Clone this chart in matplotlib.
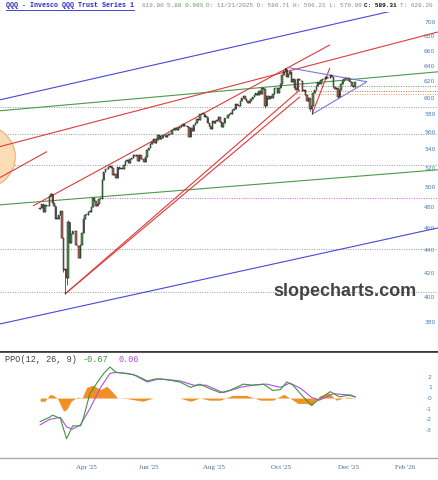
import numpy as np
import matplotlib.pyplot as plt
from matplotlib.patches import Ellipse
from matplotlib.lines import Line2D

# daily closes, index 0 = 14 Mar 2025 ... 203 = 5 Jan 2026
closes = [
    479.7, 483.0, 475.6, 481.8, 480.8, 480.8, 490.7, 493.5, 484.4, 481.5,
    468.9, 468.9, 472.7, 476.2, 450.7, 422.7, 423.7, 416.1, 466.0, 446.2,
    454.4, 457.0, 457.6, 444.2, 444.1, 433.0, 444.8, 455.9, 468.5, 472.6,
    472.4, 475.6, 475.8, 480.4, 488.8, 485.9, 481.4, 483.5, 488.3, 488.0,
    507.9, 515.6, 518.7, 519.3, 521.5, 522.0, 520.3, 513.0, 514.0, 509.2,
    521.2, 518.9, 519.1, 519.1, 523.2, 527.3, 528.8, 524.8, 529.9, 530.7,
    534.2, 532.4, 533.7, 526.9, 534.3, 529.1, 529.0, 526.8, 531.7, 539.8,
    541.2, 546.2, 548.1, 551.6, 547.0, 550.8, 556.2, 552.0, 552.3, 556.2,
    555.5, 554.2, 556.2, 556.7, 557.3, 561.8, 561.3, 564.2, 561.3, 563.8,
    565.0, 566.4, 568.1, 566.0, 566.8, 565.0, 553.9, 564.1, 560.3, 567.3,
    569.2, 574.6, 572.9, 580.1, 580.3, 579.9, 577.3, 577.1, 569.3, 565.9,
    563.3, 572.0, 570.3, 572.6, 573.5, 577.1, 570.4, 565.6, 570.1, 575.2,
    576.1, 578.9, 580.5, 580.7, 584.8, 586.7, 591.7, 590.8, 589.9, 595.3,
    599.4, 602.2, 598.2, 596.1, 593.5, 596.0, 598.7, 600.4, 603.3, 605.7,
    603.2, 607.7, 603.9, 611.4, 610.7, 589.5, 602.0, 598.0, 602.2, 600.0,
    603.9, 611.5, 611.4, 605.5, 611.3, 617.1, 628.1, 632.9, 635.8, 626.1,
    629.1, 632.1, 619.3, 623.3, 611.7, 609.7, 623.2, 621.6, 621.1, 608.4,
    608.9, 603.7, 596.3, 599.9, 585.7, 589.3, 605.2, 608.9, 614.3, 619.3,
    617.2, 622.0, 623.5, 622.9, 625.5, 624.3, 624.8, 627.6, 625.6, 613.6,
    610.5, 611.8, 600.4, 609.9, 617.1, 620.9, 622.9, 623.9, 623.9, 620.9,
    619.0, 614.3, 613.1, 619.0,
]
wick_lows = {15: 421.0, 16: 402.4, 17: 410.0, 145: 588.0, 174: 584.0, 175: 580.0, 192: 599.0}
wick_highs = {7: 494.5, 18: 467.8, 158: 637.0, 161: 634.0}

# PPO panel (trading-day index, value)
ppo_idx = [0, 6, 8, 13, 17, 21, 26, 28, 32, 37, 41, 45, 49, 56, 62, 69, 75, 82, 90,
           97, 103, 109, 116, 122, 131, 137, 144, 150, 155, 159, 163, 169, 175, 180,
           187, 193, 200, 203]
ppo_val = [-2.2, -1.8, -1.6, -1.9, -3.8, -2.6, -2.6, -1.8, 0.4, 1.5, 2.3, 2.9, 2.4, 2.3,
           2.1, 1.6, 1.8, 1.7, 1.5, 1.0, 1.3, 0.9, 0.5, 0.7, 1.3, 1.2, 1.3, 0.7, 0.8,
           1.5, 1.2, 0.2, -0.67, -0.1, 0.6, 0.1, 0.3, 0.1]
sig_idx = [0, 6, 13, 17, 21, 26, 32, 39, 45, 49, 60, 69, 77, 90, 99, 107, 118, 129,
           137, 146, 155, 161, 168, 175, 180, 189, 198, 203]
sig_val = [-2.5, -2.0, -1.8, -2.7, -2.9, -2.5, -1.0, 1.0, 2.3, 2.4, 2.2, 1.5, 1.8, 1.6,
           1.2, 1.2, 0.5, 1.0, 1.2, 1.3, 1.0, 1.4, 0.9, 0.06, -0.2, 0.4, 0.3, 0.1]
hist_idx = [0, 3, 6, 8, 11, 15, 17, 20, 24, 27, 30, 34, 39, 43, 47, 50, 56, 66, 73,
            90, 97, 103, 109, 116, 124, 133, 142, 150, 157, 161, 166, 172, 175, 180,
            186, 191, 198, 203]
hist_val = [-0.3, -0.3, 0.3, 0.3, 0.0, -1.2, -1.1, -0.3, 0.1, 0.0, 1.0, 1.2, 0.8, 1.1,
            0.5, 0.0, -0.05, -0.3, 0.0, 0.0, -0.3, 0.0, -0.2, -0.2, 0.25, 0.25, -0.2,
            -0.2, 0.35, 0.0, -0.5, -0.5, -0.73, 0.2, 0.5, -0.2, 0.1, 0.0]

# drawn trend lines: (i0, price0, i1, price1, colour)
trend_lines = [
    (-25.9, 597.3, 256.5, 730.9, "#4848d8"),
    (-25.9, 378.6, 256.5, 460.3, "#4848d8"),
    (-25.9, 584.1, 256.5, 632.3, "#4a9a4a"),
    (-25.9, 482.4, 256.5, 518.0, "#4a9a4a"),
    (-25.9, 543.1, 256.5, 685.7, "#e03a3a"),
    (-25.9, 509.9, 4.4, 537.6, "#e03a3a"),
    (-4.6, 481.4, 186.8, 667.9, "#e03a3a"),
    (16.0, 402.4, 167.5, 609.6, "#e03a3a"),
    (16.0, 402.4, 167.5, 601.0, "#e03a3a"),
    (175.3, 580.0, 186.8, 637.5, "#e03a3a"),
    (159.1, 638.0, 210.7, 619.6, "#7878e0"),
    (175.3, 580.0, 210.7, 619.6, "#7878e0"),
]
# dotted horizontal levels: (price, start index, colour)
levels = [
    (614.5, 165, "#5aa85a"), (608.3, 165, "#e06060"), (604.6, 165, "#f0a040"),
    (589.0, -26, "#999999"), (557.5, -26, "#999999"), (523.0, -26, "#999999"),
    (489.0, 38.6, "#e060e0"), (441.0, -26, "#999999"), (404.0, -26, "#999999"),
]
price_ticks = list(range(380, 701, 20))
ppo_ticks = [2, 1, 0, -1, -2, -3]
month_pos = [29.5, 70, 112, 155.5, 198.5, 235]
month_lab = ["Apr '25", "Jun '25", "Aug '25", "Oct '25", "Dec '25", "Feb '26"]

W, H = 438, 480
fig = plt.figure(figsize=(W / 100, H / 100), dpi=100)
ax = fig.add_axes([0, 128 / H, 1, 340 / H])
ax2 = fig.add_axes([0, 22 / H, 1, 106 / H], sharex=ax)

# main price panel
ax.set_yscale("log")
ax.set_xlim(-25.9, 256.5)
ax.set_ylim(357.6, 714.1)

for p, start, col in levels:
    ax.plot([start, 256.5], [p, p], color=col, lw=0.7, ls=(0, (1, 1.5)), zorder=1)
for i0, p0, i1, p1, col in trend_lines:
    ax.plot([i0, i1], [p0, p1], color=col, lw=0.8, zorder=2, solid_capstyle="butt")

ax.add_patch(Ellipse((-0.05, 0.574), 0.17, 0.195, transform=ax.transAxes,
                     facecolor="#fbdcb4", edgecolor="#f0b070", lw=0.8, zorder=1))

x = np.arange(len(closes))
c = np.array(closes)
o = np.concatenate([[478.0], c[:-1]])
lo = np.minimum(o, c)
hi = np.maximum(o, c)
for k, v in wick_lows.items():
    lo[k] = min(lo[k], v)
for k, v in wick_highs.items():
    hi[k] = max(hi[k], v)
up = c >= o
ax.vlines(x, lo, hi, color="#222222", lw=0.5, zorder=3)
body = np.where(np.abs(c - o) < 0.6, 0.6, c - o)
ax.bar(x[up], body[up], bottom=o[up], width=0.9, color="#4f9a4f",
       edgecolor="#1a1a1a", lw=0.35, zorder=4)
ax.bar(x[~up], body[~up], bottom=o[~up], width=0.9, color="#b8645a",
       edgecolor="#1a1a1a", lw=0.35, zorder=4)

ax.yaxis.tick_right()
ax.set_yticks(price_ticks)
ax.set_yticklabels([str(t) for t in price_ticks])
ax.yaxis.set_minor_locator(plt.NullLocator())
ax.tick_params(axis="y", length=0, pad=-10, labelsize=4.3, labelcolor="#4a80b8")
ax.tick_params(axis="x", length=0, labelbottom=False)
for s in ["top", "left", "right"]:
    ax.spines[s].set_visible(False)
ax.spines["bottom"].set_color("#333333")
ax.spines["bottom"].set_linewidth(1.2)

ax.text(0.788, 0.179, "slopecharts.com", transform=ax.transAxes, ha="center",
        va="center", fontsize=13, fontweight="bold", color="#444444",
        family="Liberation Sans", zorder=6)

# PPO panel
ax2.fill_between(hist_idx, hist_val, 0, color="#f29025", lw=0, zorder=2)
ax2.plot(sig_idx, sig_val, color="#b050e0", lw=0.8, zorder=3)
ax2.plot(ppo_idx, ppo_val, color="#3d963d", lw=0.8, zorder=4)
ax2.set_ylim(-5.6, 4.3)
ax2.yaxis.tick_right()
ax2.set_yticks(ppo_ticks)
ax2.set_yticklabels([str(t) for t in ppo_ticks])
ax2.tick_params(axis="y", length=0, pad=-4.5, labelsize=4.3, labelcolor="#4a80b8")
for lab in ax2.get_yticklabels():
    lab.set_ha("right")
ax2.set_xticks(month_pos)
ax2.set_xticklabels(month_lab)
ax2.tick_params(axis="x", length=0, pad=5, labelsize=5, labelcolor="#4a6a90")
for lab in ax2.get_xticklabels():
    lab.set_family("Liberation Serif")
for s in ["left", "right"]:
    ax2.spines[s].set_visible(False)
ax2.spines["top"].set_color("#333333")
ax2.spines["top"].set_linewidth(1.2)
ax2.spines["bottom"].set_color("#aaaaaa")
ax2.spines["bottom"].set_linewidth(1.0)

# header texts
def px_text(xp, yp, s, fs, col, bold=False):
    fig.text(xp / W, 1 - yp / H, s, fontsize=fs, color=col, va="center", ha="left",
             family="Liberation Mono", fontweight="bold" if bold else "normal")

title = "QQQ - Invesco QQQ Trust Series 1"
px_text(6, 5.5, title, 4.8, "#2828c8", bold=True)
cw = 0.6 * 4.8 * 100 / 72
fig.add_artist(Line2D([6 / W, (6 + len(title) * cw) / W], [1 - 9.5 / H, 1 - 9.5 / H],
                      color="#2828c8", lw=0.6))
fs2 = 4.3
cw2 = 0.6 * fs2 * 100 / 72
pieces = [("619.00 ", "#888888", False), ("5.88 0.96% ", "#50a050", False),
          ("D: 11/21/2025 O: 586.71 H: 596.21 L: 579.99 ", "#888888", False),
          ("C: 589.31 ", "#111111", True), ("T: 628.20", "#888888", False)]
xp = 142
for s, col, b in pieces:
    px_text(xp, 5.5, s, fs2, col, bold=b)
    xp += len(s) * cw2

fs3 = 6.2
cw3 = 0.6 * fs3 * 100 / 72
px_text(5, 359, "PPO(12, 26, 9)", fs3, "#444444")
px_text(5 + 15 * cw3, 359, "-0.67", fs3, "#3d963d")
px_text(5 + 22 * cw3, 359, "0.06", fs3, "#b050e0")

fig.savefig("out.png", dpi=100)
